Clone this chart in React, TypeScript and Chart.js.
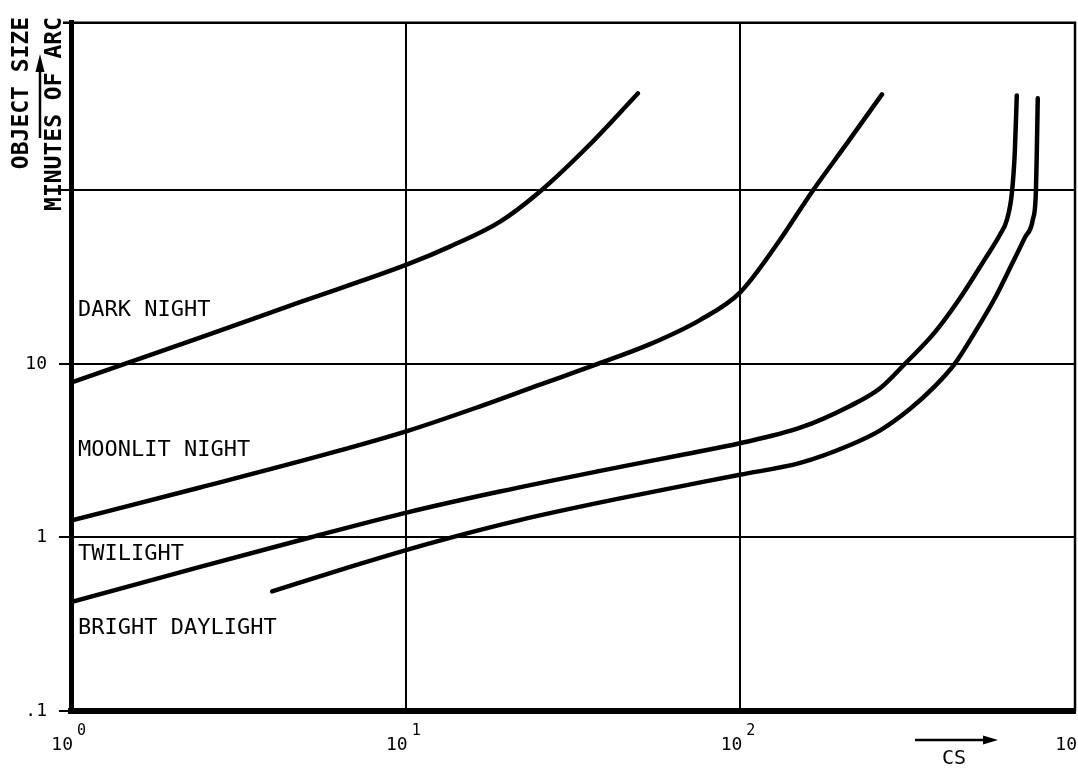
import React, { useEffect, useRef } from "react";
import { Chart, registerables } from "chart.js";

Chart.register(...registerables);

// Axis ticks
const xTickValues = [1, 10, 100, 1000];
const xTickBase = "10";
const xTickExponents = ["0", "1", "2", "3"];
const yTickValues = [0.1, 1, 10, 100];
const yTickLabels = [".1", "1", "10", ""];
const yMin = 0.1;
const yMax = 925;

// Series: CS (x) vs object size in minutes of arc (y)
const darkNightCS = [1, 2.43, 4.83, 10.2, 13.6, 19.1, 25.2, 35.5, 49.4];
const darkNightSize = [7.8, 14.2, 22.7, 37.7, 47.6, 65.9, 98.7, 184, 362];

const moonlitCS = [1, 2.43, 5.94, 10.2, 16.7, 25.2, 37.5, 53.7, 75.7, 99.7, 128, 164, 210, 265];
const moonlitSize = [1.25, 1.94, 3.06, 4.13, 5.7, 7.6, 10, 13.0, 17.9, 25.8, 48.3, 98.7, 191, 358];

const twilightCS = [1, 2.43, 5.18, 10.2, 19.1, 38.1, 66, 99.7, 151, 212, 261, 310, 381, 453, 538, 597, 626, 648, 661, 670];
const twilightSize = [0.424, 0.677, 1.0, 1.4, 1.84, 2.42, 2.98, 3.49, 4.29, 5.71, 7.22, 10, 15.2, 23.9, 40.2, 55.7, 67.8, 97.4, 168, 353];

const daylightCS = [3.99, 6.82, 11.8, 21.9, 43.7, 99.7, 151, 212, 261, 321, 381, 437, 502, 576, 648, 708, 748, 764, 769, 774];
const daylightSize = [0.489, 0.677, 0.925, 1.26, 1.68, 2.3, 2.69, 3.4, 4.13, 5.5, 7.42, 10, 15.2, 23.9, 37.7, 53.5, 67.8, 97.4, 168, 340];

// Condition labels and the y value they sit at
const conditionLabels = ["DARK NIGHT", "MOONLIT NIGHT", "TWILIGHT", "BRIGHT DAYLIGHT"];
const conditionLabelY = [20.4, 3.2, 0.8, 0.3];

const FONT = '"DejaVu Sans Mono", monospace';

function toPoints(xs: number[], ys: number[]) {
  return xs.map((x, i) => ({ x, y: ys[i] }));
}

const decorPlugin = {
  id: "decor",
  afterDraw(chart: any) {
    const ctx: CanvasRenderingContext2D = chart.ctx;
    const xs = chart.scales.x;
    const ys = chart.scales.y;
    const area = chart.chartArea;
    ctx.save();
    ctx.fillStyle = "#000";
    ctx.strokeStyle = "#000";

    // top and right frame
    ctx.lineWidth = 2.5;
    ctx.beginPath();
    ctx.moveTo(area.left - 8, area.top);
    ctx.lineTo(area.right, area.top);
    ctx.lineTo(area.right, area.bottom);
    ctx.stroke();

    // x tick labels with superscripts
    xTickValues.forEach((v, i) => {
      const px = xs.getPixelForValue(v);
      ctx.font = `18px ${FONT}`;
      ctx.textAlign = "right";
      ctx.textBaseline = "middle";
      ctx.fillText(xTickBase, px + 2, area.bottom + 34);
      ctx.font = `15px ${FONT}`;
      ctx.textAlign = "left";
      ctx.fillText(xTickExponents[i], px + 6, area.bottom + 20);
    });

    // condition labels
    ctx.font = `22px ${FONT}`;
    ctx.textAlign = "left";
    ctx.textBaseline = "middle";
    conditionLabels.forEach((t, i) => {
      ctx.fillText(t, area.left + 7, ys.getPixelForValue(conditionLabelY[i]));
    });

    // y axis title (rotated)
    ctx.font = `bold 23px ${FONT}`;
    ctx.textAlign = "center";
    ctx.textBaseline = "middle";
    ctx.save();
    ctx.translate(22, 93);
    ctx.rotate(-Math.PI / 2);
    ctx.fillText("OBJECT SIZE", 0, 0);
    ctx.restore();
    ctx.save();
    ctx.translate(55, 114);
    ctx.rotate(-Math.PI / 2);
    ctx.fillText("MINUTES OF ARC", 0, 0);
    ctx.restore();

    // up arrow between titles
    ctx.lineWidth = 2.5;
    ctx.beginPath();
    ctx.moveTo(40, 138);
    ctx.lineTo(40, 66);
    ctx.stroke();
    ctx.beginPath();
    ctx.moveTo(40, 54);
    ctx.lineTo(35.5, 72);
    ctx.lineTo(44.5, 72);
    ctx.closePath();
    ctx.fill();

    // CS arrow and label
    ctx.beginPath();
    ctx.moveTo(915, area.bottom + 29);
    ctx.lineTo(985, area.bottom + 29);
    ctx.stroke();
    ctx.beginPath();
    ctx.moveTo(998, area.bottom + 29);
    ctx.lineTo(983, area.bottom + 24.5);
    ctx.lineTo(983, area.bottom + 33.5);
    ctx.closePath();
    ctx.fill();
    ctx.font = `20px ${FONT}`;
    ctx.textAlign = "center";
    ctx.fillText("CS", 954, area.bottom + 48);

    ctx.restore();
  },
};

export default function App() {
  const canvasRef = useRef<HTMLCanvasElement | null>(null);

  useEffect(() => {
    const canvas = canvasRef.current;
    if (!canvas) return;
    const line = (data: { x: number; y: number }[]) => ({
      data,
      borderColor: "#000",
      backgroundColor: "#000",
      borderWidth: 4.5,
      pointRadius: 0,
      fill: false,
      cubicInterpolationMode: "monotone" as const,
      borderCapStyle: "round" as const,
      borderJoinStyle: "round" as const,
    });
    const chart = new Chart(canvas, {
      type: "line",
      data: {
        datasets: [
          line(toPoints(darkNightCS, darkNightSize)),
          line(toPoints(moonlitCS, moonlitSize)),
          line(toPoints(twilightCS, twilightSize)),
          line(toPoints(daylightCS, daylightSize)),
        ],
      },
      options: {
        animation: false,
        responsive: true,
        maintainAspectRatio: false,
        layout: { padding: { left: 0, top: 9, right: 3, bottom: 0 } },
        plugins: { legend: { display: false }, tooltip: { enabled: false } },
        scales: {
          x: {
            type: "logarithmic",
            min: 1,
            max: 1000,
            afterBuildTicks: (s: any) => {
              s.ticks = xTickValues.map((v) => ({ value: v }));
            },
            afterFit: (s: any) => {
              s.height = 60;
            },
            ticks: { display: false },
            grid: {
              color: "#000",
              lineWidth: 2,
              drawTicks: false,
            },
            border: { display: true, color: "#000", width: 6 },
          },
          y: {
            type: "logarithmic",
            min: yMin,
            max: yMax,
            afterBuildTicks: (s: any) => {
              s.ticks = yTickValues.map((v) => ({ value: v }));
            },
            afterFit: (s: any) => {
              s.width = 71;
            },
            ticks: {
              color: "#000",
              font: { family: FONT, size: 18 },
              padding: 12,
              callback: (_v: any, i: number) => yTickLabels[i],
            },
            grid: {
              color: "#000",
              lineWidth: 2,
              tickLength: 12,
            },
            border: { display: true, color: "#000", width: 5 },
          },
        },
      },
      plugins: [decorPlugin],
    });
    return () => chart.destroy();
  }, []);

  return (
    <div style={{ position: "absolute", left: 0, top: 0, width: 1078, height: 771, background: "#fff" }}>
      <canvas ref={canvasRef} />
    </div>
  );
}
